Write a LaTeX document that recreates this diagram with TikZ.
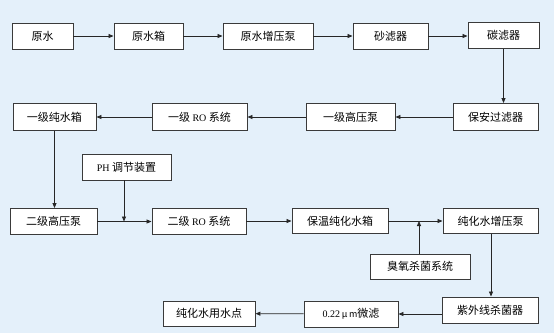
\documentclass[tikz,border=0pt]{standalone}
\usepackage{fontspec}
\setmainfont{Liberation Serif}
\newfontfamily\cjk{Noto Sans CJK SC}
\usetikzlibrary{arrows.meta}
\definecolor{bgblue}{HTML}{E4F0FA}
\definecolor{boxline}{HTML}{3A3A3A}
\tikzset{
  procbox/.style={draw=boxline, line width=0.9pt, fill=white, inner sep=0pt,
    font=\fontsize{11}{13}\selectfont\cjk, text=black, anchor=center},
  flow/.style={line width=0.8pt, draw=black!85, -{Triangle[length=5pt,width=4pt]}},
  plain/.style={line width=0.8pt, draw=black!85}
}
\begin{document}
\begin{tikzpicture}[x=1pt,y=-1pt]
\fill[bgblue] (0,0) rectangle (554,333);
\useasboundingbox (0,0) rectangle (554,333);
% row 1
\node[procbox, minimum width=61pt, minimum height=26pt] (ys) at (42.5,36) {原水};
\node[procbox, minimum width=69pt, minimum height=26pt] (ysx) at (148.5,36) {原水箱};
\node[procbox, minimum width=90pt, minimum height=26pt] (zyb) at (268,36) {原水增压泵};
\node[procbox, minimum width=75pt, minimum height=26pt] (sl) at (390.5,36) {砂滤器};
\node[procbox, minimum width=71pt, minimum height=26pt] (tl) at (503.5,35.5) {碳滤器};
% row 2
\node[procbox, minimum width=85pt, minimum height=27pt] (ba) at (495.5,117) {保安过滤器};
\node[procbox, minimum width=89pt, minimum height=27pt] (gy1) at (350.5,117) {一级高压泵};
\node[procbox, minimum width=95pt, minimum height=27pt] (ro1) at (199.5,117) {一级 {\rmfamily\fontsize{10}{12}\selectfont RO} 系统};
\node[procbox, minimum width=83pt, minimum height=27pt] (cs1) at (54.5,117) {一级纯水箱};
% row 3
\node[procbox, minimum width=89pt, minimum height=26pt] (ph) at (126.5,167) {{\rmfamily\fontsize{10}{12}\selectfont PH} 调节装置};
\node[procbox, minimum width=87pt, minimum height=26pt] (gy2) at (53.5,221.5) {二级高压泵};
\node[procbox, minimum width=94pt, minimum height=26pt] (ro2) at (199,221.5) {二级 {\rmfamily\fontsize{10}{12}\selectfont RO} 系统};
\node[procbox, minimum width=96pt, minimum height=25pt] (bw) at (340,221) {保温纯化水箱};
\node[procbox, minimum width=95pt, minimum height=25pt] (zyb2) at (490.5,221) {纯化水增压泵};
\node[procbox, minimum width=100pt, minimum height=25pt] (cy) at (420,266.5) {臭氧杀菌系统};
% row 4
\node[procbox, minimum width=96pt, minimum height=26pt] (uv) at (490,310) {紫外线杀菌器};
\node[procbox, minimum width=94pt, minimum height=26pt] (wl) at (351,314) {{\rmfamily\fontsize{10}{12}\selectfont 0.22}\,{\fontsize{9}{11}\selectfont μ\,m}微滤};
\node[procbox, minimum width=92pt, minimum height=25pt] (yd) at (209,313.5) {纯化水用水点};
% junctions
\coordinate (jph) at (124,221.5);
\coordinate (jcy) at (419,221);
% connectors
\draw[flow] (ys) -- (ysx);
\draw[flow] (ysx) -- (zyb);
\draw[flow] (zyb) -- (sl);
\draw[flow] (sl) -- (tl.west |- sl.east);
\draw[flow] (tl.south) -- (tl.south |- ba.north);
\draw[flow] (ba) -- (gy1);
\draw[flow] (gy1) -- (ro1);
\draw[flow] (ro1) -- (cs1);
\draw[flow] (cs1.south) -- (cs1.south |- gy2.north);
\draw[flow] (gy2) -- (ro2);
\draw[flow] (ph.south -| jph) -- (jph);
\draw[flow] (ro2.east |- bw.west) -- (bw.west);
\draw[flow] (bw) -- (zyb2);
\draw[flow] (cy.north -| jcy) -- (jcy);
\draw[flow] (zyb2.south -| 491,0) -- (uv.north -| 491,0);
\draw[flow] (wl.east -| uv.west) -- (wl.east);
\draw[flow] (wl) -- (yd);
\end{tikzpicture}
\end{document}
